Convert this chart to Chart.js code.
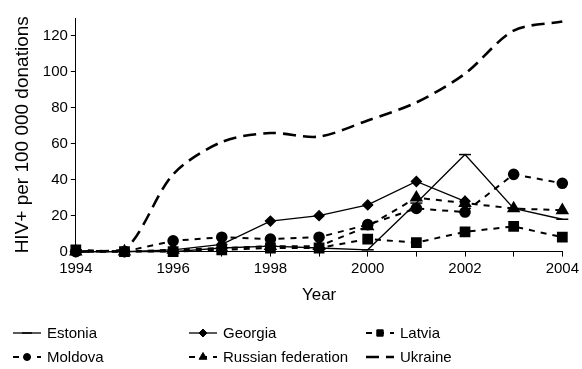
<!DOCTYPE html>
<html>
<head>
<meta charset="utf-8">
<script src="https://cdn.jsdelivr.net/npm/chart.js@4"></script>
<style>
  html, body { margin: 0; padding: 0; background: #fff; }
  #wrap { width: 582px; height: 369px; }
</style>
</head>
<body>
<div id="wrap"><canvas id="hivChart"></canvas></div>
<script>
// HIV+ per 100 000 donations, 1994-2004
const years = [1994, 1995, 1996, 1997, 1998, 1999, 2000, 2001, 2002, 2003, 2004];
const estonia = [0, 0, 0, 2, 3, 2, 1, 27, 54, 24, 18];
const georgia = [0, 0, 1, 4, 17, 20, 26, 39, 28, null, null];
const latvia = [1, 0, 0, 1, 2, 2, 7, 5, 11, 14, 8];
const moldova = [0, 0, 6, 8, 7, 8, 15, 24, 22, 43, 38];
const russia = [0, 0, 1, 2, 3, 3, 14, 30, 27, 24, 23];
const ukraine = [0, 1, 43, 61, 66, 64, 73, 83, 99, 123, 128];
const yTicks = [0, 20, 40, 60, 80, 100, 120];

const font = 'Liberation Sans, Arial, Helvetica, sans-serif';

function pts(values) {
  return years.map((yr, i) => ({ x: yr, y: values[i] }));
}

// legend drawn as a fixed 3 x 2 grid under the axis
const legendSpots = [[13, 333], [189, 333], [366, 333], [13, 357], [189, 357], [366, 357]];

const gridLegend = {
  id: 'gridLegend',
  afterDraw(chart) {
    const ctx = chart.ctx;
    chart.data.datasets.forEach((ds, i) => {
      const [x, y] = legendSpots[i];
      ctx.save();
      ctx.strokeStyle = '#000';
      ctx.lineWidth = ds.borderWidth;
      ctx.setLineDash(ds.borderDash || []);
      ctx.beginPath();
      ctx.moveTo(x, y);
      ctx.lineTo(x + 28, y);
      ctx.stroke();
      ctx.setLineDash([]);
      if (ds.pointRadius > 0) {
        ctx.fillStyle = '#000';
        ctx.lineWidth = ds.pointBorderWidth || 1;
        Chart.helpers.drawPoint(ctx, {
          pointStyle: ds.pointStyle,
          radius: ds.legendRadius || ds.pointRadius,
          rotation: 0,
          borderWidth: ds.pointBorderWidth || 1
        }, x + 14, y);
      }
      ctx.fillStyle = '#000';
      ctx.font = '15px ' + font;
      ctx.textBaseline = 'middle';
      ctx.fillText(ds.label, x + 34, y + 1);
      ctx.restore();
    });
  }
};

const ctx = document.getElementById('hivChart');

new Chart(ctx, {
  type: 'line',
  data: {
    datasets: [
      {
        label: 'Estonia',
        data: pts(estonia),
        borderColor: '#000',
        borderWidth: 1.3,
        pointStyle: 'line',
        pointRadius: 6,
        pointBorderWidth: 1.5,
        pointBorderColor: '#000',
        legendRadius: 5
      },
      {
        label: 'Georgia',
        data: pts(georgia),
        borderColor: '#000',
        borderWidth: 1.3,
        pointStyle: 'rectRot',
        pointRadius: 5,
        pointBackgroundColor: '#000',
        pointBorderColor: '#000',
        legendRadius: 4
      },
      {
        label: 'Latvia',
        data: pts(latvia),
        borderColor: '#000',
        borderWidth: 2,
        borderDash: [6, 6],
        pointStyle: 'rect',
        pointRadius: 6.2,
        pointBackgroundColor: '#000',
        pointBorderColor: '#000',
        legendRadius: 4.5
      },
      {
        label: 'Moldova',
        data: pts(moldova),
        borderColor: '#000',
        borderWidth: 2,
        borderDash: [6, 6],
        pointStyle: 'circle',
        pointRadius: 4.8,
        pointBackgroundColor: '#000',
        pointBorderColor: '#000',
        legendRadius: 3.5
      },
      {
        label: 'Russian federation',
        data: pts(russia),
        borderColor: '#000',
        borderWidth: 2,
        borderDash: [6, 6],
        pointStyle: 'triangle',
        pointRadius: 5.8,
        pointBackgroundColor: '#000',
        pointBorderColor: '#000',
        legendRadius: 4.5
      },
      {
        label: 'Ukraine',
        data: pts(ukraine),
        borderColor: '#000',
        borderWidth: 2.6,
        borderDash: [13, 7],
        tension: 0.3,
        pointRadius: 0
      }
    ]
  },
  options: {
    responsive: true,
    maintainAspectRatio: false,
    animation: false,
    clip: false,
    layout: { padding: { left: 9, right: 0, top: 18, bottom: 63 } },
    plugins: {
      legend: { display: false },
      tooltip: { enabled: false }
    },
    scales: {
      x: {
        type: 'linear',
        min: 1994,
        max: 2004,
        grid: { drawOnChartArea: false, color: '#000', tickLength: 5 },
        border: { color: '#000', width: 1 },
        ticks: {
          stepSize: 1,
          autoSkip: false,
          maxRotation: 0,
          color: '#000',
          font: { family: font, size: 15 },
          callback: (v) => (v % 2 === 0 ? String(v) : '')
        },
        title: {
          display: true,
          text: 'Year',
          color: '#000',
          font: { family: font, size: 17 },
          padding: { top: 5, bottom: 0 }
        }
      },
      y: {
        min: 0,
        max: 130,
        afterBuildTicks: (scale) => {
          scale.ticks = yTicks.map((v) => ({ value: v }));
        },
        grid: { drawOnChartArea: false, color: '#000', tickLength: 5 },
        border: { color: '#000', width: 1 },
        ticks: {
          color: '#000',
          font: { family: font, size: 15 }
        },
        title: {
          display: true,
          text: 'HIV+ per 100 000 donations',
          color: '#000',
          font: { family: font, size: 19 },
          padding: { top: 2, bottom: 6 }
        }
      }
    }
  },
  plugins: [gridLegend]
});
</script>
</body>
</html>
